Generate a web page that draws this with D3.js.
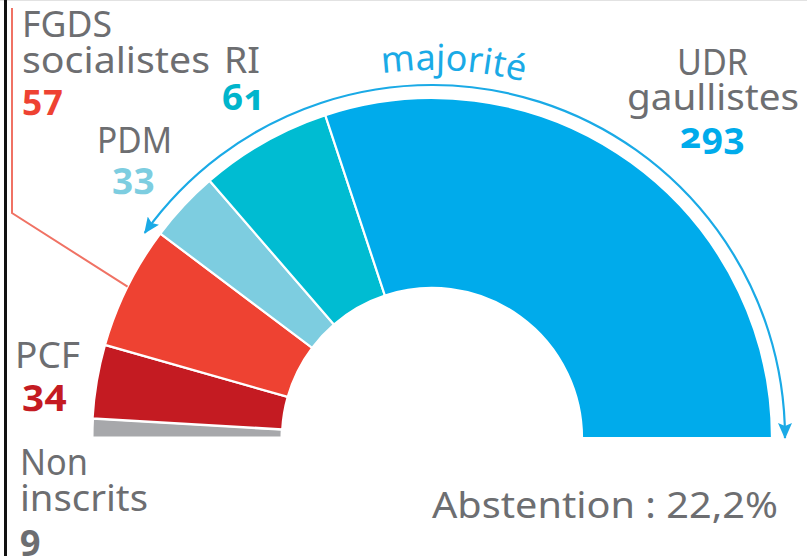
<!DOCTYPE html>
<html><head><meta charset="utf-8">
<script src="https://cdn.jsdelivr.net/npm/d3@7"></script>
<style>
html,body{margin:0;padding:0;background:#fff;}
svg{display:block;}
text{font-family:"Noto Sans","Open Sans",sans-serif;}
.num{font-weight:700;font-variant-numeric:oldstyle-nums;font-feature-settings:"onum" 1;}
</style></head>
<body>
<script>
// ---- data ----
const parties = ["Non inscrits","PCF","FGDS socialistes","PDM","RI","UDR gaullistes"];
const seats   = [9, 34, 57, 33, 61, 293];
const colors  = ["#a7a8ab","#c41b22","#ee4232","#7dcde0","#00bcd2","#00abeb"];
const numColors = ["#6d6e71","#c41b22","#ee4232","#7dcde0","#00b5cc","#00abeb"];
const majorityParties = ["PDM","RI","UDR gaullistes"];
const abstention = "Abstention : 22,2%";
const majorityLabel = "majorité";

const W = 807, H = 556;
const cx = 432, cy = 438, rOut = 340, rIn = 150, rArrow = 353, rText = 368;
const grey = "#6d6e71";

const svg = d3.select("body").append("svg").attr("width", W).attr("height", H);

// frame
svg.append("line").attr("x1",0).attr("x2",W).attr("y1",0.5).attr("y2",0.5).attr("stroke","#e2e2e2").attr("stroke-width",1);
svg.append("line").attr("x1",5.5).attr("x2",5.5).attr("y1",0).attr("y2",H).attr("stroke","#111").attr("stroke-width",3);

const g = svg.append("g").attr("transform",`translate(${cx},${cy})`);

const pie = d3.pie().sort(null).value(d=>d).startAngle(-Math.PI/2).endAngle(Math.PI/2);
const arcs = pie(seats);
const arc = d3.arc().innerRadius(rIn).outerRadius(rOut);

g.selectAll("path.seg").data(arcs).join("path")
  .attr("class","seg")
  .attr("d", arc)
  .attr("fill",(d,i)=>colors[i])
  .attr("stroke","#fff").attr("stroke-width",(d,i)=>i===0?3:2.2).attr("stroke-linejoin","miter");

// leader line for FGDS
const fg = arcs[2];
const mid = (fg.startAngle+fg.endAngle)/2;
const ex = cx + rOut*Math.sin(mid), ey = cy - rOut*Math.cos(mid);
svg.append("path")
  .attr("d", d3.line()([[12,8],[12,213],[ex,ey]]))
  .attr("fill","none").attr("stroke","#f07264").attr("stroke-width",2);

// majority arrow
const defs = svg.append("defs");
defs.append("marker").attr("id","ah").attr("viewBox","0 0 16 14")
  .attr("refX",15).attr("refY",7).attr("markerWidth",16).attr("markerHeight",14)
  .attr("markerUnits","userSpaceOnUse").attr("orient","auto-start-reverse")
  .append("path").attr("d","M0,0 L16,7 L0,14 L3,7 Z").attr("fill","#1aaae6");

const firstMaj = parties.indexOf(majorityParties[0]);
const a0 = arcs[firstMaj].startAngle - 0.025, a1 = Math.PI/2;
const ap = d3.path();
ap.arc(0,0,rArrow, a0 - Math.PI/2, a1 - Math.PI/2, false);
g.append("path").attr("d", ap.toString())
  .attr("fill","none").attr("stroke","#1aaae6").attr("stroke-width",2.2)
  .attr("marker-start","url(#ah)").attr("marker-end","url(#ah)");

// curved "majorité"
const tp = d3.path();
tp.arc(0,0,rText, Math.PI, 2*Math.PI, false);
defs.append("path").attr("id","tpath").attr("d", tp.toString()).attr("transform",`translate(${cx},${cy})`);
const off = (Math.PI/2 + Math.asin(21/rText))*rText;
svg.append("text").attr("font-size",36).attr("fill","#1aaae6")
  .append("textPath").attr("href","#tpath").attr("startOffset",off).attr("text-anchor","middle")
  .text(majorityLabel);

// labels
function lab(txt, x, y, len, opts={}) {
  const t = svg.append("text").attr("x",x).attr("y",y).text(txt)
    .attr("font-size", opts.size||36)
    .attr("fill", opts.fill||grey);
  if (opts.cls) t.attr("class",opts.cls);
  if (len) t.attr("textLength",len).attr("lengthAdjust","spacingAndGlyphs");
  return t;
}
// names
lab("FGDS", 22, 37, 90);
lab("socialistes", 22, 73, 188);
lab(parties[4], 224, 73, 36);
lab(parties[3], 97, 153, 75);
lab("UDR", 677, 75, 71);
lab("gaullistes", 627, 110, 172);
lab(parties[1], 15, 368, 65);
lab("Non", 20, 475, 68);
lab("inscrits", 20, 511, 128);
lab(abstention, 432, 518, 346);

// numbers
lab(String(seats[2]), 22, 110, 41, {cls:"num", fill:numColors[2]});
lab(String(seats[4]), 222, 110, 43, {cls:"num", fill:numColors[4]});
lab(String(seats[3]), 112, 188, 43, {cls:"num", fill:numColors[3]});
lab(String(seats[5]), 680, 148, 65, {cls:"num", fill:numColors[5]});
lab(String(seats[1]), 22, 405, 45, {cls:"num", fill:numColors[1]});
lab(String(seats[0]), 20, 550, null, {cls:"num", fill:numColors[0]});
</script>
</body></html>
